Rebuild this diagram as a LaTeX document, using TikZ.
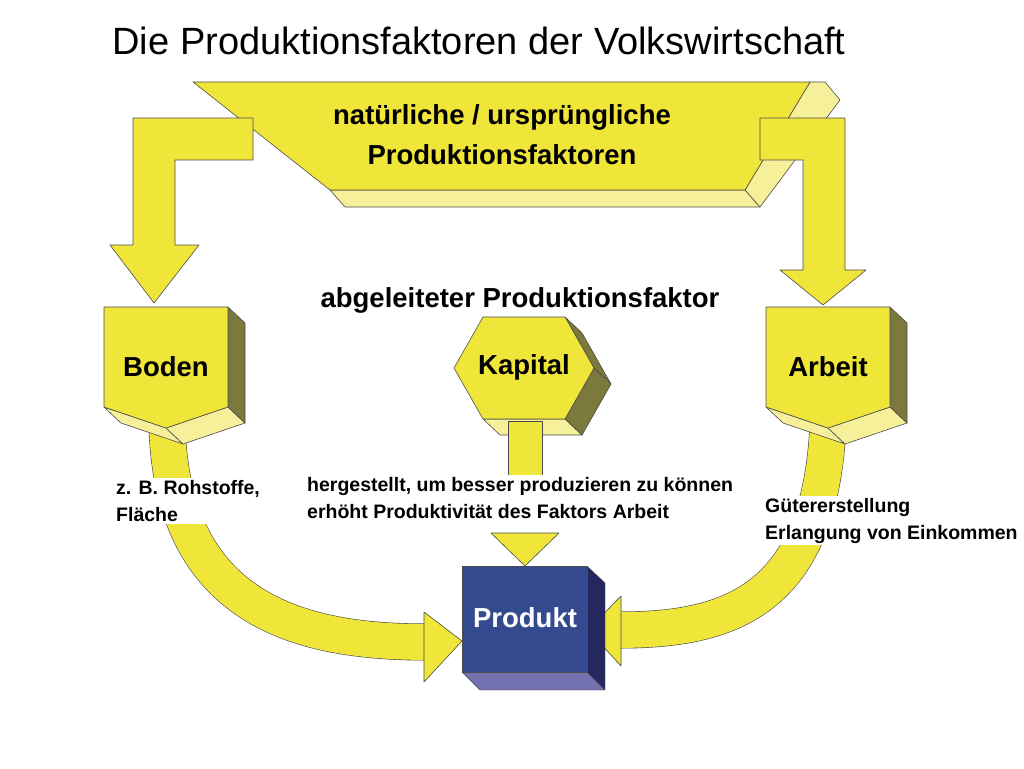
\documentclass[tikz,border=0pt]{standalone}
\usepackage{fontspec}
\setmainfont{Liberation Sans}
\begin{document}
\begin{tikzpicture}[x=1pt,y=-1pt,line join=round]
\definecolor{yel}{HTML}{F0E63A}
\definecolor{lyel}{HTML}{F7F09A}
\definecolor{olv}{HTML}{7B7A3C}
\definecolor{nav}{HTML}{344A8E}
\definecolor{dnav}{HTML}{25285E}
\definecolor{lav}{HTML}{7371B0}
\tikzset{
 yf/.style={fill=yel,draw=black!70,line width=0.6pt},
 ly/.style={fill=lyel,draw=black!70,line width=0.6pt},
 ol/.style={fill=olv,draw=black!70,line width=0.6pt},
 lbl/.style={font=\bfseries\fontsize{27.5}{40}\selectfont,align=center},
 sm/.style={font=\bfseries\fontsize{19.5}{27}\selectfont,align=left,fill=white,inner sep=2pt},
}
\useasboundingbox (0,0) rectangle (1024,768);
\node[font=\fontsize{38}{40}\selectfont] (title) at (479,41) {Die Produktionsfaktoren der Volkswirtschaft};
% top trapezoid
\draw[ly] (330,190) -- (745,190) -- (760,207) -- (345,207) -- cycle;
\draw[ly] (810,82) -- (825,82) -- (840,100) -- (760,207) -- (745,190) -- cycle;
\draw[yf] (193,82) -- (810,82) -- (745,190) -- (330,190) -- cycle;
\node[lbl] (nat) at (502,135) {natürliche / ursprüngliche\\Produktionsfaktoren};
% L-arrows
\draw[yf] (133,118) -- (253,118) -- (253,160) -- (175,160) -- (175,245) -- (199,245) -- (154,303) -- (110,245) -- (133,245) -- cycle;
\draw[yf] (760,118) -- (845,118) -- (845,270) -- (866,270) -- (823,305) -- (780,270) -- (803,270) -- (803,160) -- (760,160) -- cycle;
% curved bands
\draw[black!70,line width=37pt] (167,425) .. controls (172,610) and (300,642) .. (426,642);
\draw[yel,line width=35.8pt] (167,425) .. controls (172,610) and (300,642) .. (426,642);
\draw[yf] (424,612) -- (462,641) -- (424,682) -- cycle;
\draw[black!70,line width=37pt] (828,425) .. controls (820,600) and (730,630) .. (620,630);
\draw[yel,line width=35.8pt] (828,425) .. controls (820,600) and (730,630) .. (620,630);
\draw[yf] (621,596) -- (588,630) -- (621,666) -- cycle;
% Boden
\draw[ly] (104,407) -- (166,428) -- (183,444) -- (121,423) -- cycle;
\draw[ly] (166,428) -- (228,407) -- (245,423) -- (183,444) -- cycle;
\draw[ol] (228,307) -- (245,323) -- (245,423) -- (228,407) -- cycle;
\draw[yf] (104,307) -- (228,307) -- (228,407) -- (166,428) -- (104,407) -- cycle;
\node[lbl] (boden) at (166,367) {Boden};
% Arbeit
\draw[ly] (766,407) -- (828,428) -- (845,444) -- (783,423) -- cycle;
\draw[ly] (828,428) -- (890,407) -- (907,423) -- (845,444) -- cycle;
\draw[ol] (890,307) -- (907,323) -- (907,423) -- (890,407) -- cycle;
\draw[yf] (766,307) -- (890,307) -- (890,407) -- (828,428) -- (766,407) -- cycle;
\node[lbl] (arbeit) at (828,367) {Arbeit};
% Kapital
\node[lbl] (abg) at (520,300) {abgeleiteter Produktionsfaktor};
\draw[ly] (483,419) -- (565,419) -- (582,435) -- (500,435) -- cycle;
\draw[ol] (565,317) -- (594,368) -- (611,384) -- (582,333) -- cycle;
\draw[ol] (594,368) -- (565,419) -- (582,435) -- (611,384) -- cycle;
\draw[yf] (483,317) -- (565,317) -- (594,368) -- (565,419) -- (483,419) -- (454,368) -- cycle;
\node[lbl] (kapital) at (524,367) {Kapital};
\draw[yf] (508,421) rectangle (542,480);
\draw[yf] (491,533) -- (559,533) -- (525,566) -- cycle;
% Produkt
\draw[fill=lav,draw=black!70] (462,672) -- (587,672) -- (605,690) -- (480,690) -- cycle;
\draw[fill=dnav,draw=black!70] (587,566) -- (605,583) -- (605,690) -- (587,672) -- cycle;
\draw[fill=nav,draw=black!70] (462,566) rectangle (587,672);
\node[lbl,text=white] (produkt) at (525,618) {Produkt};
% texts
\node[sm,anchor=north west] (rohs) at (114,478) {z. B. Rohstoffe,\\Fläche};
\node[sm,anchor=north west] (herg) at (305,475) {hergestellt, um besser produzieren zu können\\erhöht Produktivität des Faktors Arbeit};
\node[sm,anchor=north west] (gut) at (763,496) {Gütererstellung\\Erlangung von Einkommen};
\end{tikzpicture}
\end{document}
